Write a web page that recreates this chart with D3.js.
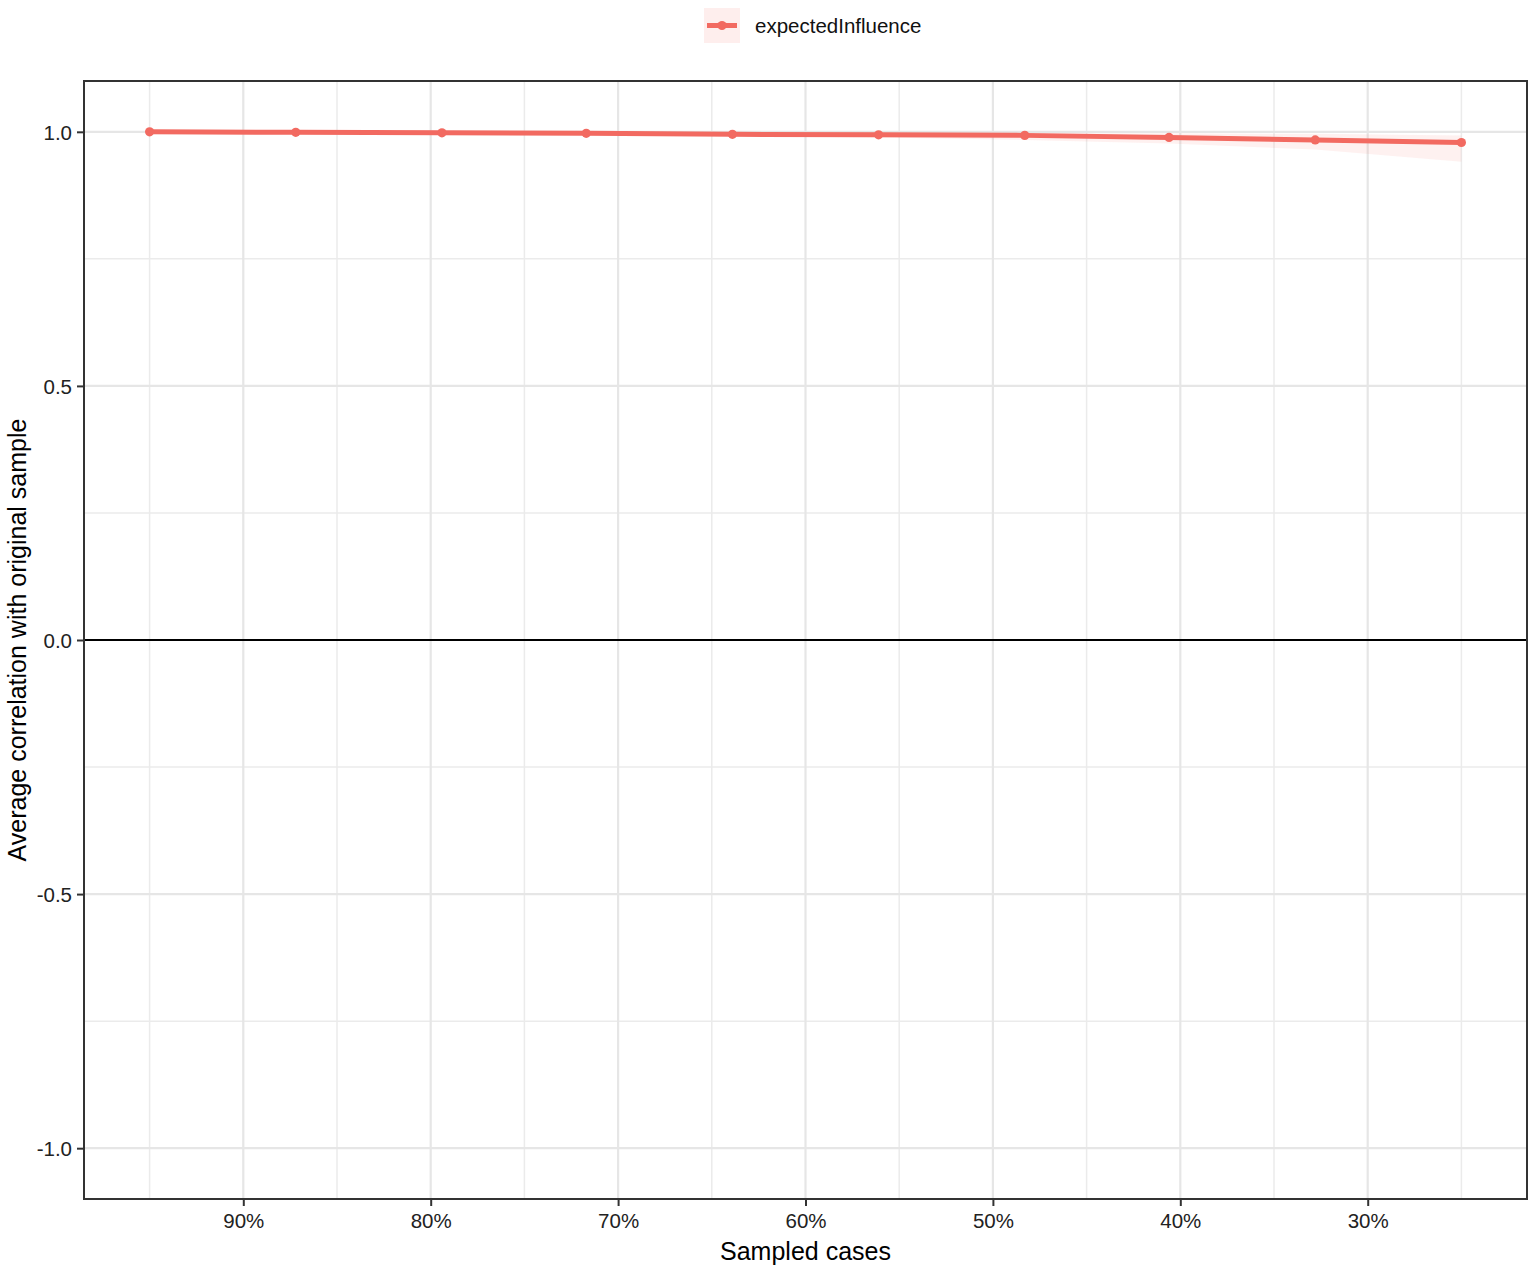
<!DOCTYPE html>
<html><head><meta charset="utf-8">
<script src="https://cdn.jsdelivr.net/npm/d3@7"></script>
<style>body{margin:0;background:#fff;} svg{display:block;font-family:"Liberation Sans",Arial,sans-serif;}</style>
</head><body>
<script>
const seriesName = "expectedInfluence";
const sampledCases = [0.95, 0.872, 0.794, 0.717, 0.639, 0.561, 0.483, 0.406, 0.328, 0.25];
const avgCorrelation = [1.000, 0.999, 0.998, 0.997, 0.995, 0.994, 0.993, 0.989, 0.984, 0.979];
const ciLower = [0.999, 0.998, 0.996, 0.994, 0.992, 0.989, 0.984, 0.977, 0.965, 0.941];
const ciUpper = [1.000, 1.000, 0.999, 0.999, 0.998, 0.998, 0.997, 0.997, 0.996, 0.993];
const xMajorTicks = [0.9, 0.8, 0.7, 0.6, 0.5, 0.4, 0.3];
const xMinorTicks = [0.95, 0.85, 0.75, 0.65, 0.55, 0.45, 0.35, 0.25];
const yMajorTicks = [-1, -0.5, 0, 0.5, 1];
const yMinorTicks = [-0.75, -0.25, 0.25, 0.75];

const W = 1535, H = 1271;
const L = 84, R = 1527, T = 81, B = 1199;
const col = "#F26A61";

const svg = d3.select("body").append("svg").attr("width", W).attr("height", H);

const xDomLo = 0.25 - 0.035, xDomHi = 0.95 + 0.035;
const x = d3.scaleLinear().domain([xDomHi, xDomLo]).range([L, R]);
const y = d3.scaleLinear().domain([-1.1, 1.1]).range([B, T]);

const g = svg.append("g");
// minor grid
g.selectAll(".xmin").data(xMinorTicks).enter().append("line")
  .attr("x1", d => x(d)).attr("x2", d => x(d)).attr("y1", T).attr("y2", B)
  .attr("stroke", "#EBEBEB").attr("stroke-width", 1.5);
g.selectAll(".ymin").data(yMinorTicks).enter().append("line")
  .attr("y1", d => y(d)).attr("y2", d => y(d)).attr("x1", L).attr("x2", R)
  .attr("stroke", "#EBEBEB").attr("stroke-width", 1.5);
// major grid
g.selectAll(".xmaj").data(xMajorTicks).enter().append("line")
  .attr("x1", d => x(d)).attr("x2", d => x(d)).attr("y1", T).attr("y2", B)
  .attr("stroke", "#E6E6E6").attr("stroke-width", 2.2);
g.selectAll(".ymaj").data(yMajorTicks).enter().append("line")
  .attr("y1", d => y(d)).attr("y2", d => y(d)).attr("x1", L).attr("x2", R)
  .attr("stroke", "#E6E6E6").attr("stroke-width", 2.2);

// zero line
g.append("line").attr("x1", L).attr("x2", R).attr("y1", y(0)).attr("y2", y(0))
  .attr("stroke", "#000").attr("stroke-width", 2);

const data = sampledCases.map((s, i) => ({s, v: avgCorrelation[i], lo: ciLower[i], hi: ciUpper[i]}));

// ribbon
g.append("path").datum(data)
  .attr("d", d3.area().x(d => x(d.s)).y0(d => y(d.lo)).y1(d => y(d.hi)))
  .attr("fill", "#F8766D").attr("fill-opacity", 0.1);

// line
g.append("path").datum(data)
  .attr("d", d3.line().x(d => x(d.s)).y(d => y(d.v)))
  .attr("fill", "none").attr("stroke", col).attr("stroke-width", 5);
g.selectAll(".pt").data(data).enter().append("circle")
  .attr("cx", d => x(d.s)).attr("cy", d => y(d.v)).attr("r", 4.6).attr("fill", col);

// panel border
svg.append("rect").attr("x", L).attr("y", T).attr("width", R - L).attr("height", B - T)
  .attr("fill", "none").attr("stroke", "#333").attr("stroke-width", 2);

// axes
const fmtY = d => d3.format(".1f")(d).replace("\u2212", "-");
const xAxis = svg.append("g").attr("transform", `translate(0,${B})`)
  .call(d3.axisBottom(x).tickValues(xMajorTicks).tickFormat(d => Math.round(d * 100) + "%").tickSize(7).tickPadding(7));
const yAxis = svg.append("g").attr("transform", `translate(${L},0)`)
  .call(d3.axisLeft(y).tickValues(yMajorTicks).tickFormat(fmtY).tickSize(7).tickPadding(5));
[xAxis, yAxis].forEach(a => {
  a.select(".domain").remove();
  a.selectAll(".tick line").attr("stroke", "#333").attr("stroke-width", 2);
  a.selectAll(".tick text").attr("fill", "#222").attr("font-size", 20.5).attr("font-family", "Liberation Sans, Arial, sans-serif");
});
yAxis.selectAll(".tick text").attr("dy", "0.35em");

// axis titles
svg.append("text").attr("x", (L + R) / 2).attr("y", 1260).attr("text-anchor", "middle")
  .attr("font-size", 25).attr("fill", "#000").text("Sampled cases");
svg.append("text").attr("transform", `translate(26,${(T + B) / 2}) rotate(-90)`)
  .attr("text-anchor", "middle").attr("font-size", 25).attr("fill", "#000")
  .text("Average correlation with original sample");

// legend
const lg = svg.append("g").attr("transform", "translate(704,8)");
lg.append("rect").attr("width", 36).attr("height", 35).attr("fill", "#F8766D").attr("fill-opacity", 0.12);
lg.append("line").attr("x1", 3).attr("x2", 33).attr("y1", 17.5).attr("y2", 17.5)
  .attr("stroke", col).attr("stroke-width", 5);
lg.append("circle").attr("cx", 18).attr("cy", 17.5).attr("r", 4.6).attr("fill", col);
lg.append("text").attr("x", 51).attr("y", 18).attr("dy", "0.35em").attr("font-size", 20.5)
  .attr("fill", "#111").text(seriesName);
</script>
</body></html>
